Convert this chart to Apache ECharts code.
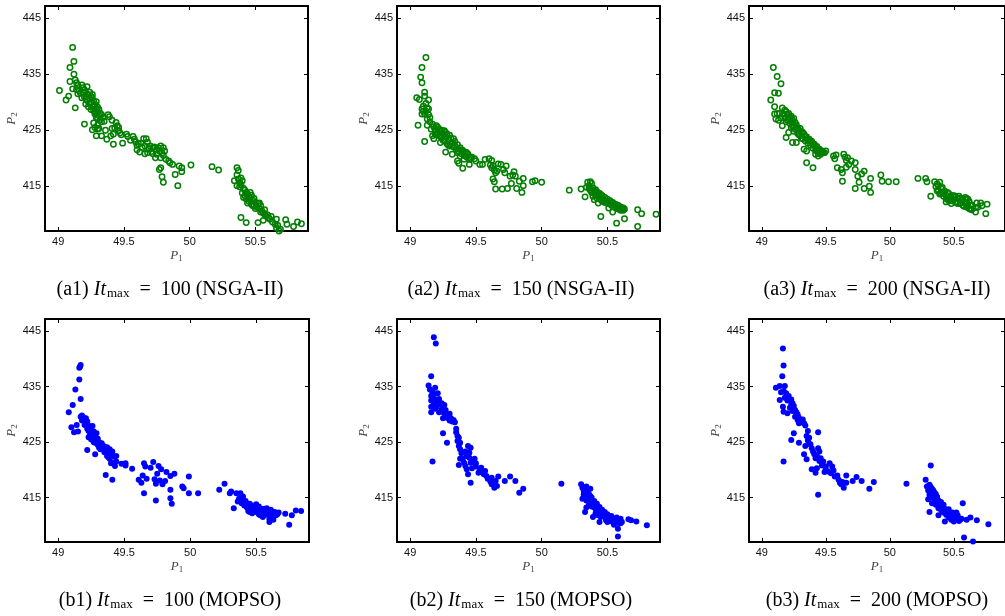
<!DOCTYPE html>
<html><head><meta charset="utf-8">
<script src="https://cdn.jsdelivr.net/npm/echarts@6/dist/echarts.min.js"></script>
<style>html,body{margin:0;padding:0;background:#fff}#c{width:1005px;height:616px}</style>
</head><body><div id="c"></div>
<script>
// ---- data ----
const xTicks = [49, 49.5, 50, 50.5];
const yTicks = [415, 425, 435, 445];
const captionIds = ['(a1)', '(a2)', '(a3)', '(b1)', '(b2)', '(b3)'];
const itMax = [100, 150, 200, 100, 150, 200];
const algos = ['NSGA-II', 'NSGA-II', 'NSGA-II', 'MOPSO', 'MOPSO', 'MOPSO'];

const nsga100 = [
[49.01,432.1],[49.06,430.4],[49.08,431.1],[49.09,436.2],[49.11,439.8],[49.12,437.3],[49.12,435.0],[49.09,433.7],[49.11,432.4],[49.13,429.0],[49.14,433.5],[49.15,433.0],[49.13,434.0],[49.17,431.6],[49.18,433.1],[49.16,432.0],[49.19,432.6],[49.2,426.1],
[49.19,431.8],[49.2,432.2],[49.21,431.0],[49.22,431.5],[49.22,430.3],[49.23,431.2],[49.24,430.6],[49.24,429.8],[49.25,431.0],[49.25,430.0],[49.26,429.2],[49.26,430.8],[49.27,428.5],[49.27,430.2],[49.28,429.6],[49.28,427.9],[49.29,428.8],[49.29,427.3],[49.3,428.3],[49.31,427.6],[49.3,429.1],[49.32,426.9],[49.33,427.8],[49.27,426.3],[49.28,425.5],[49.26,425.1],[49.3,425.9],[49.31,425.3],[49.29,424.0],[49.3,425.2],
[49.2,430.9],[49.21,429.7],[49.23,429.2],[49.24,431.8],[49.25,428.7],[49.26,431.4],[49.27,429.4],[49.28,428.3],[49.29,430.1],[49.3,427.1],[49.31,428.7],[49.32,428.0],[49.33,426.5],[49.34,427.3],[49.35,426.6],[49.22,432.8],[49.18,430.8],[49.15,431.5],[49.14,432.3],[49.36,425.0],[49.33,424.0],
[49.37,423.4],[49.39,427.4],[49.38,427.8],[49.41,426.8],[49.41,425.3],[49.42,424.3],[49.42,422.5],[49.44,426.4],[49.46,425.5],[49.46,424.9],[49.47,424.5],[49.45,425.8],[49.49,422.7],[49.52,424.3],[49.53,423.9],[49.57,423.9],[49.58,423.4],[49.6,422.3],[49.6,421.5],[49.62,421.1],[49.63,422.7],[49.65,423.5],[49.67,423.5],[49.66,422.2],[49.68,421.0],[49.69,421.7],[49.7,422.2],[49.72,420.8],[49.73,422.0],[49.74,420.1],[49.75,421.6],[49.77,421.3],[49.78,422.2],[49.8,421.9],[49.78,420.1],[49.81,421.3],[49.78,418.3],[49.77,418.0],[49.79,416.7],[49.8,415.7],[49.82,419.8],[49.84,419.5],[49.85,419.2],[49.87,418.9],[49.89,417.1],[49.91,415.1],[49.92,418.6],[49.94,418.3],[49.94,417.6],[50.01,418.8],
[49.4,424.0],[49.43,425.4],[49.48,424.2],[49.55,423.2],[49.59,422.9],[49.61,422.6],[49.64,421.9],[49.66,420.8],[49.68,422.8],[49.71,421.2],[49.72,421.9],[49.75,420.7],[49.76,421.9],[49.79,420.9],[49.8,420.5],
[50.17,418.5],[50.22,417.9],
[50.34,416.0],[50.36,418.3],[50.37,417.8],[50.36,417.0],[50.37,416.3],[50.38,415.6],[50.36,415.1],[50.39,416.5],[50.4,416.0],[50.41,414.6],[50.4,413.8],[50.42,414.3],[50.42,413.3],[50.43,412.7],[50.44,413.6],[50.44,412.0],[50.45,413.1],[50.46,412.6],[50.47,413.4],[50.47,411.8],[50.48,412.5],[50.49,411.5],[50.5,412.1],[50.51,411.3],[50.52,411.9],[50.53,411.0],[50.54,411.5],[50.55,410.6],[50.56,410.2],[50.57,410.8],[50.58,409.7],[50.6,409.4],[50.61,409.1],[50.63,408.6],[50.66,409.1],[50.66,407.6],[50.68,407.0],[50.69,407.3],[50.73,409.0],[50.74,408.2],[50.79,407.8],[50.82,408.6],[50.85,408.3],[50.39,409.4],[50.43,408.5],[50.52,408.5],[50.56,408.9],[50.48,411.5],
[50.38,414.9],[50.39,415.3],[50.41,413.0],[50.43,413.9],[50.45,412.3],[50.46,413.9],[50.49,412.8],[50.5,411.0],[50.53,412.0],[50.54,410.4],[50.57,410.0],[50.59,409.9],[50.62,409.6],[50.65,408.2],[50.67,408.0]
];
const nsga150 = [
[49.12,438.0],[49.09,436.2],[49.08,434.5],[49.09,433.5],[49.11,431.8],[49.11,431.1],[49.05,430.8],[49.07,430.5],[49.14,430.4],[49.1,429.3],[49.09,428.8],[49.14,428.8],[49.11,427.9],[49.09,427.9],[49.12,428.4],[49.15,427.3],[49.13,427.0],[49.06,425.9],[49.13,425.9],[49.11,423.0],[49.17,426.1],[49.16,425.2],
[49.12,429.8],[49.13,429.0],[49.1,428.4],[49.14,427.8],[49.15,426.5],
[49.18,425.6],[49.19,425.0],[49.2,425.8],[49.21,424.6],[49.22,425.2],[49.22,424.0],[49.23,424.8],[49.24,423.6],[49.25,424.4],[49.26,423.1],[49.26,424.9],[49.27,423.8],[49.28,424.3],[49.28,422.6],[49.29,423.4],[49.3,424.1],[49.3,422.2],[49.31,423.6],[49.32,422.8],[49.33,423.5],[49.34,422.2],[49.35,421.6],[49.36,422.4],[49.37,421.2],[49.38,421.9],[49.39,420.8],[49.4,421.4],[49.41,420.5],[49.42,421.1],[49.43,420.2],[49.44,420.7],
[49.19,424.3],[49.2,424.2],[49.21,425.5],[49.23,424.0],[49.24,425.0],[49.25,423.2],[49.27,424.6],[49.29,422.3],[49.31,422.5],[49.33,422.0],[49.34,423.0],[49.36,421.0],[49.38,420.4],[49.39,421.5],[49.41,419.8],[49.43,421.0],[49.46,420.0],[49.5,419.5],
[49.17,424.0],[49.18,423.5],[49.23,422.8],[49.27,421.1],[49.32,420.7],[49.36,419.5],[49.37,419.1],[49.4,418.2],[49.45,419.8],[49.45,418.9],[49.47,420.2],[49.49,419.9],[49.53,418.9],[49.55,418.9],[49.57,419.8],[49.6,419.9],[49.62,419.6],[49.62,418.3],[49.61,418.8],[49.63,416.3],[49.64,415.8],[49.65,417.4],[49.64,417.9],[49.65,414.5],[49.67,419.0],[49.69,418.9],[49.7,414.5],[49.72,417.4],[49.73,418.6],[49.74,414.6],[49.76,416.8],[49.77,415.5],[49.79,417.6],[49.8,416.8],[49.81,414.6],[49.83,415.9],[49.85,413.9],[49.86,415.1],[49.86,416.4],[49.93,415.8],[49.95,416.0],[50.0,415.7],
[49.63,418.6],[49.66,417.7],[49.71,418.0],[49.78,417.0],
[50.21,414.3],[50.3,414.5],[50.33,413.1],[50.34,414.8],[50.35,415.7],[50.36,415.1],[50.37,414.3],[50.38,415.5],[50.39,414.7],[50.38,413.9],[50.4,414.1],[50.41,413.5],[50.42,414.0],[50.43,413.2],[50.44,413.7],[50.45,412.8],[50.46,413.3],[50.47,412.5],[50.48,413.0],[50.49,412.2],[50.5,412.7],[50.51,411.9],[50.52,412.4],[50.53,411.6],[50.54,412.1],[50.55,411.3],[50.56,411.8],[50.57,411.0],[50.58,411.6],[50.59,410.9],[50.6,411.3],[50.61,410.8],[50.62,411.1],[50.63,410.9],[50.45,409.6],[50.54,410.4],[50.57,408.4],[50.63,409.2],[50.73,410.8],[50.73,407.8],[50.76,410.1],[50.87,410.0],[50.4,412.6],[50.43,412.0],
[50.36,414.6],[50.37,415.8],[50.38,414.3],[50.39,413.2],[50.4,413.7],[50.41,414.4],[50.42,412.9],[50.43,413.8],[50.44,412.7],[50.45,413.5],[50.46,412.3],[50.48,412.1],[50.5,412.3],[50.51,411.1],[50.53,412.0],[50.55,411.7],[50.57,411.4],[50.59,411.3],[50.6,410.7],[50.62,410.7]
];
const nsga200 = [
[49.09,436.2],[49.12,434.6],[49.15,433.3],[49.1,431.7],[49.13,431.6],[49.07,430.4],[49.1,429.2],[49.1,427.9],[49.11,427.0],[49.16,429.0],[49.14,428.0],[49.13,426.8],[49.18,428.6],[49.16,425.8],[49.21,424.6],[49.19,423.7],[49.24,422.8],
[49.17,427.9],[49.18,427.2],[49.19,426.5],[49.2,427.8],[49.21,427.0],[49.22,426.2],[49.23,427.5],[49.23,425.5],[49.24,426.8],[49.25,425.9],[49.25,424.8],[49.26,426.4],[49.27,425.2],[49.28,424.4],[49.29,425.0],[49.3,424.0],[49.31,424.7],[49.32,423.5],[49.33,424.3],[49.34,423.1],[49.35,423.8],[49.36,422.7],[49.37,423.4],[49.38,422.3],[49.39,423.0],[49.4,421.8],[49.41,422.5],[49.42,421.4],[49.43,422.1],[49.44,421.0],[49.45,421.6],[49.46,420.7],[49.47,421.3],[49.49,421.0],[49.27,422.8],[49.33,421.6],[49.35,421.3],[49.35,419.2],[49.4,418.3],[49.42,420.7],[49.44,420.4],[49.48,421.0],[49.5,421.3],
[49.19,428.3],[49.2,426.8],[49.21,428.0],[49.22,427.3],[49.23,426.5],[49.24,425.7],[49.25,427.1],[49.26,425.2],[49.27,426.0],[49.28,425.4],[49.29,424.2],[49.3,425.3],[49.31,423.6],[49.32,424.6],[49.34,423.9],[49.36,423.3],[49.38,423.1],[49.4,422.5],[49.42,422.0],[49.44,421.6],[49.46,421.2],[49.15,427.2],[49.12,428.0],
[49.56,420.4],[49.57,419.9],[49.58,420.6],[49.59,418.3],[49.62,418.0],[49.63,415.9],[49.63,417.4],[49.64,420.7],[49.65,420.2],[49.66,419.6],[49.67,420.1],[49.68,418.9],[49.66,418.4],[49.7,419.5],[49.73,419.2],[49.73,418.0],[49.75,416.8],[49.73,414.6],[49.76,415.7],[49.78,417.2],[49.8,417.7],[49.8,414.6],[49.84,415.0],[49.85,413.9],[49.85,416.4],[49.93,417.0],[49.94,415.9],[49.99,415.8],[50.05,415.8],
[50.22,416.4],[50.28,416.4],[50.29,415.8],[50.32,413.2],[50.35,415.8],[50.39,415.7],[50.36,414.9],[50.37,414.2],[50.38,415.1],[50.39,413.6],[50.4,414.6],[50.41,413.9],[50.42,413.2],[50.43,414.1],[50.44,413.4],[50.45,412.7],[50.46,413.7],[50.47,413.0],[50.48,412.4],[50.49,413.3],[50.5,412.6],[50.51,413.2],[50.52,412.1],[50.53,412.8],[50.54,413.2],[50.55,411.9],[50.56,412.6],[50.57,411.6],[50.58,412.3],[50.59,413.0],[50.6,411.3],[50.6,412.0],[50.61,412.7],[50.62,411.0],[50.63,411.6],[50.64,410.8],[50.67,411.2],[50.67,410.4],[50.71,412.0],[50.72,411.5],[50.75,410.1],[50.76,411.8],[50.44,412.2],[50.48,411.9],
[50.37,415.4],[50.38,414.3],[50.4,413.7],[50.41,414.8],[50.42,413.8],[50.44,412.8],[50.45,413.9],[50.46,412.4],[50.48,413.0],[50.5,413.3],[50.51,412.2],[50.53,411.9],[50.55,412.9],[50.57,412.6],[50.58,411.4],[50.59,412.0],[50.6,412.8],[50.61,411.5],[50.62,412.3],[50.63,410.9],[50.64,411.6],[50.68,412.0],[50.69,411.3]
];
const mopso100 = [
[49.08,430.4],[49.1,427.7],[49.11,431.7],[49.12,426.8],[49.13,434.5],[49.14,428.1],[49.15,426.9],[49.16,436.3],[49.16,438.4],[49.17,438.9],[49.165,438.6],[49.17,432.8],[49.17,429.6],[49.18,429.8],[49.19,429.5],[49.2,429.0],[49.21,428.3],[49.22,428.7],[49.22,427.4],[49.23,428.0],[49.24,427.6],[49.23,425.9],[49.22,423.6],[49.25,427.2],[49.25,425.5],[49.26,426.4],[49.27,426.9],[49.27,425.0],[49.28,424.9],[49.28,422.8],[49.29,426.6],[49.3,424.5],[49.3,425.6],[49.31,424.0],[49.32,423.7],[49.33,424.8],[49.34,424.3],[49.35,423.2],[49.36,419.1],[49.37,422.5],[49.37,424.1],[49.38,423.0],[49.39,423.7],[49.4,421.2],[49.41,418.2],[49.41,423.3],[49.42,422.4],[49.43,420.7],[49.44,422.5],[49.44,421.5],[49.48,421.1],[49.51,421.2],[49.51,420.8],[49.56,420.2],[49.61,418.2],[49.63,417.7],[49.64,419.0],[49.65,421.2],[49.65,415.8],[49.66,420.6],[49.67,418.4],[49.7,420.4],[49.72,421.4],[49.73,418.3],[49.74,414.5],[49.74,417.5],[49.75,419.3],[49.76,420.7],[49.77,418.1],[49.78,420.1],[49.79,417.4],[49.81,418.0],[49.82,419.6],[49.85,418.9],[49.85,416.4],[49.85,414.9],[49.86,413.9],[49.88,419.3],[49.94,417.0],[49.95,416.7],[49.99,418.8],[49.99,415.8],[50.06,415.8],
[49.18,428.9],[49.2,428.1],[49.21,429.3],[49.23,427.0],[49.24,426.2],[49.26,427.9],[49.28,425.8],[49.29,425.3],[49.31,425.0],[49.33,423.9],[49.35,424.2],[49.36,423.6],[49.38,422.3],[49.39,422.0],[49.4,423.0],[49.42,421.3],
[50.22,416.4],[50.26,417.5],[50.3,415.8],[50.31,416.1],[50.33,413.1],[50.35,415.8],[50.36,414.3],[50.38,415.8],[50.37,414.8],[50.39,414.0],[50.4,415.2],[50.41,413.6],[50.42,414.4],[50.43,413.2],[50.44,412.6],[50.45,413.9],[50.46,413.0],[50.47,412.2],[50.48,413.5],[50.49,412.7],[50.5,413.8],[50.51,412.3],[50.52,413.4],[50.53,411.8],[50.54,412.9],[50.55,411.5],[50.56,412.5],[50.57,411.9],[50.58,413.1],[50.59,412.0],[50.6,411.2],[50.6,410.6],[50.61,412.8],[50.62,411.6],[50.63,411.0],[50.64,412.4],[50.65,411.8],[50.67,412.3],[50.72,412.1],[50.77,411.8],[50.75,410.1],[50.8,412.7],[50.84,412.6],[50.52,412.0],[50.45,412.4],
[50.4,414.6],[50.42,413.6],[50.44,413.4],[50.46,412.6],[50.47,413.6],[50.49,413.2],[50.5,412.5],[50.52,412.5],[50.54,411.8],[50.56,413.0],[50.58,412.3],[50.6,412.4],[50.62,412.5],[50.63,412.0],[50.66,412.0]
];
const mopso150 = [
[49.18,443.9],[49.195,442.8],[49.16,436.9],[49.14,435.2],[49.15,434.5],[49.17,434.0],[49.19,434.8],[49.16,433.3],[49.16,432.5],[49.18,433.0],[49.21,433.8],[49.16,431.4],[49.16,430.4],[49.2,432.5],[49.22,432.8],[49.2,431.4],[49.23,431.8],[49.24,430.9],[49.26,431.7],[49.25,429.3],[49.26,430.2],[49.29,429.9],[49.3,428.9],[49.31,429.3],[49.34,428.6],[49.33,429.0],[49.25,426.6],[49.17,421.5],[49.28,424.9],[49.35,427.4],[49.36,426.1],[49.36,425.2],[49.37,424.3],[49.38,423.7],[49.38,422.0],[49.37,420.9],[49.4,422.0],[49.42,420.7],[49.43,420.1],[49.44,419.2],[49.43,422.5],[49.44,424.3],[49.45,423.1],[49.46,421.3],[49.46,424.0],[49.46,417.7],[49.48,421.7],[49.49,422.0],[49.5,420.6],[49.52,419.5],[49.54,420.4],[49.56,419.2],[49.57,419.8],[49.58,418.9],[49.62,418.6],[49.62,417.4],[49.63,417.7],[49.64,416.8],[49.65,418.0],[49.66,417.1],[49.67,418.8],[49.72,418.0],[49.76,418.8],[49.8,418.0],[49.83,415.9],[49.86,416.6],
[49.17,433.6],[49.18,432.2],[49.19,431.0],[49.21,431.9],[49.22,430.4],[49.24,432.0],[49.25,430.5],[49.27,430.8],[49.28,429.4],[49.3,430.1],[49.32,428.7],[49.35,426.8],[49.37,425.8],[49.38,424.9],[49.39,423.0],[49.41,421.3],[49.42,423.3],[49.45,422.2],[49.47,420.3],[49.5,421.2],[49.53,420.0],[49.55,419.6],[49.59,418.4],[49.61,417.9],
[50.15,417.5],[50.3,417.4],[50.31,416.8],[50.31,414.8],[50.33,412.4],[50.32,416.2],[50.33,415.5],[50.34,417.0],[50.35,416.2],[50.35,414.6],[50.36,415.6],[50.37,416.6],[50.37,414.0],[50.38,415.0],[50.39,413.6],[50.39,411.5],[50.4,414.4],[50.41,413.0],[50.42,413.9],[50.43,412.5],[50.44,413.3],[50.44,410.6],[50.45,412.1],[50.46,412.8],[50.47,411.7],[50.48,412.4],[50.49,411.3],[50.5,412.0],[50.5,410.6],[50.51,411.5],[50.52,410.9],[50.53,411.7],[50.54,411.1],[50.55,410.1],[50.56,410.7],[50.57,411.4],[50.58,409.4],[50.58,408.0],[50.59,410.8],[50.6,411.2],[50.61,410.6],[50.66,411.1],[50.68,410.9],[50.72,410.7],[50.8,410.0],[50.36,413.8],[50.34,413.2],
[50.32,415.6],[50.33,416.6],[50.34,414.5],[50.36,414.9],[50.37,415.3],[50.38,413.4],[50.4,413.2],[50.41,412.2],[50.42,412.9],[50.43,411.8],[50.45,411.5],[50.47,412.2],[50.49,410.9],[50.52,411.4],[50.54,410.6],[50.56,411.0],[50.59,410.4],[50.6,410.4]
];
const mopso200 = [
[49.165,441.9],[49.17,438.8],[49.16,436.9],[49.11,434.8],[49.14,435.1],[49.18,435.1],[49.17,434.2],[49.19,433.8],[49.14,432.6],[49.165,431.4],[49.17,430.5],[49.2,430.2],[49.21,433.3],[49.23,432.7],[49.23,431.8],[49.24,430.6],[49.25,431.5],[49.26,429.6],[49.27,430.4],[49.28,429.0],[49.29,428.4],[49.3,429.0],[49.33,428.4],[49.17,421.5],[49.25,426.6],[49.23,425.4],[49.29,424.9],[49.33,422.8],[49.34,424.3],[49.35,426.1],[49.35,421.9],[49.36,425.3],[49.37,424.7],[49.39,420.1],[49.4,423.3],[49.42,419.5],[49.44,426.8],[49.42,422.1],[49.43,420.3],[49.44,423.9],[49.45,423.3],[49.46,422.1],[49.44,415.5],[49.48,421.5],[49.49,419.6],[49.5,420.6],[49.53,421.2],[49.54,419.4],[49.55,420.6],[49.56,419.9],[49.59,419.0],[49.61,417.7],[49.62,417.4],[49.64,416.8],[49.66,417.7],[49.66,419.0],[49.71,418.0],[49.74,418.7],[49.78,418.0],[49.84,416.6],[49.875,417.8],
[49.15,434.0],[49.18,433.0],[49.2,432.5],[49.22,431.2],[49.24,432.0],[49.26,430.8],[49.28,430.0],[49.29,429.4],[49.31,428.6],[49.32,429.1],[49.34,428.0],[49.36,427.0],[49.37,425.8],[49.38,424.6],[49.39,423.9],[49.41,422.8],[49.43,422.6],[49.45,421.6],[49.47,420.8],[49.5,420.0],[49.52,419.7],[49.57,418.8],[49.6,418.2],[49.63,417.8],
[50.13,417.5],[50.28,418.2],[50.32,420.8],[50.29,417.0],[50.3,416.3],[50.31,412.4],[50.3,414.7],[50.31,415.5],[50.32,416.9],[50.33,415.2],[50.33,414.0],[50.34,416.3],[50.35,414.6],[50.36,413.7],[50.36,415.6],[50.37,414.3],[50.38,413.1],[50.38,411.8],[50.39,414.0],[50.4,412.8],[50.41,413.5],[50.42,412.3],[50.43,410.7],[50.43,413.0],[50.44,411.9],[50.45,412.6],[50.46,411.4],[50.47,412.2],[50.48,411.0],[50.49,411.8],[50.5,410.7],[50.51,411.6],[50.52,412.3],[50.53,411.2],[50.54,410.8],[50.57,414.0],[50.58,407.8],[50.63,411.4],[50.65,407.1],[50.68,410.9],[50.77,410.2],[50.56,411.2],[50.6,411.0],
[50.31,417.3],[50.32,415.9],[50.33,416.6],[50.34,415.0],[50.35,415.9],[50.37,415.1],[50.38,414.5],[50.39,413.4],[50.4,414.2],[50.41,412.5],[50.42,413.7],[50.44,412.8],[50.46,412.9],[50.47,411.7],[50.49,412.3],[50.51,411.0],[50.53,411.8],[50.55,411.0]
];
const panelData = [nsga100, nsga150, nsga200, mopso100, mopso150, mopso200];

// ---- layout ----
const gridPos = [
  {left: 45, top: 6, width: 263, height: 225},
  {left: 397, top: 6, width: 263, height: 225},
  {left: 749, top: 6, width: 263, height: 225},
  {left: 45, top: 319, width: 264, height: 223},
  {left: 397, top: 319, width: 263, height: 223},
  {left: 749, top: 319, width: 258, height: 223}
];
const capPos = [[170, 290], [521, 290], [877, 290], [170, 601], [521, 601], [877, 601]];

const grids = [], xAxes = [], yAxes = [], series = [], graphics = [];
const tickStyle = {show: true, inside: true, length: 4, lineStyle: {color: '#000', width: 1}};
const labelFont = {fontFamily: 'Liberation Sans', fontSize: 11, color: '#111'};
const nameRich = {
  i: {fontFamily: 'Liberation Serif', fontStyle: 'italic', fontSize: 13, color: '#444'},
  s: {fontFamily: 'Liberation Serif', fontSize: 9, color: '#444', padding: [6, 0, 0, 0]}
};
gridPos.forEach((g, k) => {
  grids.push(Object.assign({show: true, borderColor: '#000', borderWidth: 2, backgroundColor: '#fff', containLabel: false}, g));
  const xBase = {type: 'value', gridIndex: k, min: 48.9, max: 50.9, splitLine: {show: false},
    axisLine: {show: true, onZero: false, lineStyle: {color: '#000', width: 2}}};
  xAxes.push(Object.assign({}, xBase, {position: 'bottom',
    axisTick: Object.assign({customValues: xTicks}, tickStyle),
    axisLabel: Object.assign({customValues: xTicks, margin: 5}, labelFont),
    name: '{i|P}{s|1}', nameLocation: 'middle', nameGap: 17,
    nameTextStyle: {rich: nameRich}}));
  xAxes.push(Object.assign({}, xBase, {position: 'top',
    axisTick: Object.assign({customValues: xTicks}, tickStyle),
    axisLabel: {show: false}}));
  const yBase = {type: 'value', gridIndex: k, min: 407, max: 447.2, splitLine: {show: false},
    axisLine: {show: true, onZero: false, lineStyle: {color: '#000', width: 2}}};
  yAxes.push(Object.assign({}, yBase, {position: 'left',
    axisTick: Object.assign({customValues: yTicks}, tickStyle),
    axisLabel: Object.assign({customValues: yTicks, margin: 4}, labelFont),
    name: '{i|P}{s|2}', nameLocation: 'middle', nameGap: 26, nameRotate: 90,
    nameTextStyle: {rich: nameRich}}));
  yAxes.push(Object.assign({}, yBase, {position: 'right',
    axisTick: Object.assign({customValues: yTicks}, tickStyle),
    axisLabel: {show: false}}));
  const isA = k < 3;
  series.push({
    type: 'scatter', xAxisIndex: 2 * k, yAxisIndex: 2 * k, data: panelData[k],
    symbol: 'circle', symbolSize: isA ? 5.4 : 6, silent: true, animation: false,
    itemStyle: isA ? {color: 'rgba(0,0,0,0)', borderColor: '#007f00', borderWidth: 1.5, opacity: 1}
                   : {color: '#0000ff', opacity: 1}
  });
  graphics.push({
    type: 'text', x: capPos[k][0], y: capPos[k][1],
    style: {
      text: '{n|' + captionIds[k] + ' }{i|It}{s|max}{n|  =  ' + itMax[k] + ' (' + algos[k] + ')}',
      align: 'center', verticalAlign: 'middle',
      rich: {
        n: {fontFamily: 'Liberation Serif', fontSize: 20, fill: '#000'},
        i: {fontFamily: 'Liberation Serif', fontStyle: 'italic', fontSize: 20, fill: '#000'},
        s: {fontFamily: 'Liberation Serif', fontSize: 13, fill: '#000', padding: [8, 0, 0, 1]}
      }
    }
  });
});

const chart = echarts.init(document.getElementById('c'), null, {renderer: 'canvas'});
chart.setOption({
  animation: false,
  backgroundColor: '#fff',
  grid: grids, xAxis: xAxes, yAxis: yAxes, series: series, graphic: graphics
});
</script></body></html>
